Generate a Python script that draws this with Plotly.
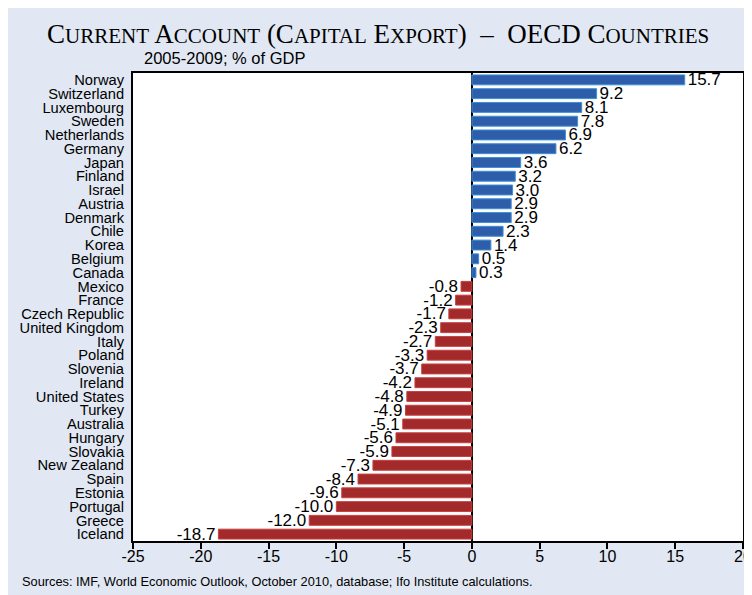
import plotly.graph_objects as go

countries = ["Norway", "Switzerland", "Luxembourg", "Sweden", "Netherlands", "Germany",
             "Japan", "Finland", "Israel", "Austria", "Denmark", "Chile", "Korea", "Belgium",
             "Canada", "Mexico", "France", "Czech Republic", "United Kingdom", "Italy",
             "Poland", "Slovenia", "Ireland", "United States", "Turkey", "Australia",
             "Hungary", "Slovakia", "New Zealand", "Spain", "Estonia", "Portugal", "Greece",
             "Iceland"]
values = [15.7, 9.2, 8.1, 7.8, 6.9, 6.2, 3.6, 3.2, 3.0, 2.9, 2.9, 2.3, 1.4, 0.5, 0.3,
          -0.8, -1.2, -1.7, -2.3, -2.7, -3.3, -3.7, -4.2, -4.8, -4.9, -5.1, -5.6, -5.9,
          -7.3, -8.4, -9.6, -10.0, -12.0, -18.7]
x_ticks = [-25, -20, -15, -10, -5, 0, 5, 10, 15, 20]
x_tick_labels = [str(t) for t in x_ticks]

BG = "#E1E8F3"
fill = ["#2E5DA9" if v >= 0 else "#A22A2A" for v in values]
edge = ["#3D8FD8" if v >= 0 else "#C94040" for v in values]

W, H = 744, 587
L, R, T, B = 125, 9, 65, 54
PW, PH = W - L - R, H - T - B

fig = go.Figure(go.Bar(
    x=values, y=countries, orientation="h",
    marker=dict(color=fill, line=dict(color=edge, width=1)),
    width=0.72,
    text=[f"{v:.1f}" for v in values],
    textposition="outside",
    constraintext="none",
    textfont=dict(family="Liberation Sans, Arial", size=17, color="#000"),
    cliponaxis=False,
))

sc = "font-size:21px"
title = (f"C<span style='{sc}'>URRENT</span> A<span style='{sc}'>CCOUNT</span> "
         f"(C<span style='{sc}'>APITAL</span> E<span style='{sc}'>XPORT</span>)  –  "
         f"OECD C<span style='{sc}'>OUNTRIES</span>")

fig.update_layout(
    width=W, height=H,
    margin=dict(l=L, r=R, t=T, b=B, autoexpand=False),
    paper_bgcolor=BG, plot_bgcolor="white",
    showlegend=False,
    font=dict(family="Liberation Sans, Arial", color="#000"),
    xaxis=dict(range=[-25, 20], tickmode="array", tickvals=x_ticks, ticktext=x_tick_labels,
               ticks="outside", ticklen=6, automargin=False, ticklabelstandoff=-6,
               ticklabeloverflow="allow",
               tickwidth=1.5, tickcolor="#000", showgrid=False, zeroline=True,
               zerolinecolor="#000", zerolinewidth=2, showline=True, linecolor="#000",
               linewidth=2, mirror=True, tickfont=dict(size=16)),
    yaxis=dict(autorange="reversed", tickmode="array", tickvals=countries, ticktext=countries,
               showgrid=False, ticks="", showline=True, automargin=False,
               linecolor="#000", linewidth=2, mirror=True, tickfont=dict(size=14.7),
               ticklabelstandoff=4),
    annotations=[
        dict(text=title, xref="paper", yref="paper", x=(370 - L) / PW, y=1 + (T - 26) / PH,
             xanchor="center", yanchor="middle", showarrow=False,
             font=dict(family="Liberation Serif, Times New Roman", size=27, color="#000")),
        dict(text="2005-2009; % of GDP", xref="paper", yref="paper",
             x=(134 - L) / PW, y=1 + (T - 50) / PH, xanchor="left", yanchor="middle",
             showarrow=False, font=dict(size=16.5)),
        dict(text="Sources: IMF, World Economic Outlook, October 2010, database; Ifo Institute calculations.",
             xref="paper", yref="paper", x=(12 - L) / PW, y=-(573 - (H - B)) / PH,
             xanchor="left", yanchor="middle", showarrow=False, font=dict(size=12.8)),
    ],
)

fig.write_html("out.html")
